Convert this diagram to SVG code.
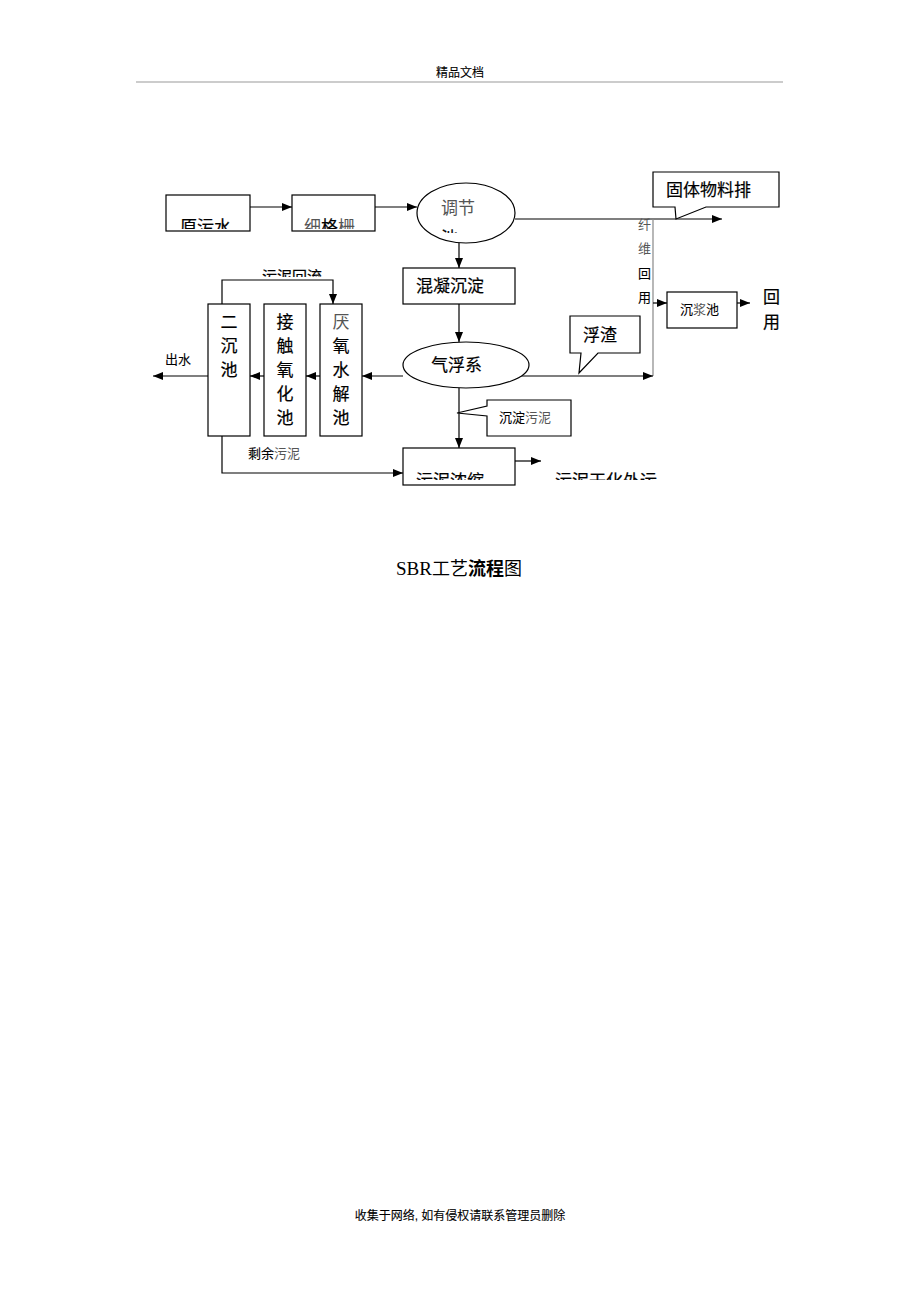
<svg xmlns="http://www.w3.org/2000/svg" width="920" height="1302" viewBox="0 0 920 1302">
<style>
.t{font-family:"Liberation Sans","Noto Sans CJK SC",sans-serif;fill:#000;stroke:#000;stroke-width:0.2}
.b{fill:#fff;stroke:#000;stroke-width:1.2}
.l{fill:none;stroke:#000;stroke-width:1.2}
.g{fill:#555;stroke:none}
.s17{font-size:17px}
.s13{font-size:13px;stroke-width:0.1}
.s12{font-size:12px;stroke-width:0.1}
</style>
<defs>
<marker id="ah" markerUnits="userSpaceOnUse" markerWidth="10" markerHeight="10" viewBox="0 0 10 10" refX="10" refY="5" orient="auto">
<path d="M0,1 L10,5 L0,9 Z" fill="#000"/>
</marker>
<clipPath id="c1"><rect x="166" y="200" width="84" height="29"/></clipPath>
<clipPath id="c2"><rect x="292" y="200" width="84" height="29"/></clipPath>
<clipPath id="c3"><rect x="430" y="225" width="40" height="8"/></clipPath>
<clipPath id="c4"><rect x="255" y="266" width="80" height="11"/></clipPath>
<clipPath id="c5"><rect x="403" y="455" width="112" height="25"/></clipPath>
<clipPath id="c6"><rect x="550" y="455" width="130" height="25"/></clipPath>
</defs>
<rect width="920" height="1302" fill="#fff"/>

<g id="header">
<text class="t s12" x="460" y="77" text-anchor="middle">精品文档</text>
<line x1="136" y1="82" x2="783" y2="82" stroke="#999" stroke-width="1.2"/>
</g>

<g id="connectors">
<line class="l" x1="250" y1="207" x2="292" y2="207" marker-end="url(#ah)"/>
<line class="l" x1="375" y1="207" x2="417" y2="207" marker-end="url(#ah)"/>
<line class="l" x1="515" y1="219" x2="722" y2="219" marker-end="url(#ah)"/>
<line x1="653" y1="219" x2="653" y2="376" stroke="#888" stroke-width="1.2"/>
<line class="l" x1="653" y1="303" x2="667" y2="303" marker-end="url(#ah)"/>
<line class="l" x1="737" y1="303" x2="750" y2="303" marker-end="url(#ah)"/>
<line class="l" x1="459" y1="243" x2="459" y2="268" marker-end="url(#ah)"/>
<line class="l" x1="459" y1="304" x2="459" y2="342" marker-end="url(#ah)"/>
<line class="l" x1="515" y1="376" x2="653" y2="376" marker-end="url(#ah)"/>
<line class="l" x1="403" y1="376" x2="362" y2="376" marker-end="url(#ah)"/>
<line class="l" x1="320" y1="376" x2="306" y2="376" marker-end="url(#ah)"/>
<line class="l" x1="264" y1="376" x2="250" y2="376" marker-end="url(#ah)"/>
<line class="l" x1="208" y1="376" x2="153" y2="376" marker-end="url(#ah)"/>
<polyline class="l" points="222,304 222,280 333,280 333,304" marker-end="url(#ah)"/>
<polyline class="l" points="222,436 222,473 403,473" marker-end="url(#ah)"/>
<line class="l" x1="459" y1="388" x2="459" y2="448" marker-end="url(#ah)"/>
<line class="l" x1="515" y1="461" x2="541" y2="461" marker-end="url(#ah)"/>
</g>

<g id="n-yuanwushui">
<rect class="b" x="166" y="195" width="84" height="36"/>
<text class="t s17" x="180" y="233" clip-path="url(#c1)">原污水</text>
</g>

<g id="n-xigeshan">
<rect class="b" x="292" y="195" width="83" height="36"/>
<text class="t s17" x="304" y="233" clip-path="url(#c2)"><tspan class="g">细</tspan>格<tspan class="g">栅</tspan></text>
</g>

<g id="n-tiaojiechi">
<ellipse class="b" cx="466" cy="213" rx="49" ry="30"/>
<text class="t s17 g" x="441" y="214">调节</text>
<text class="t s17" x="441" y="244" clip-path="url(#c3)">池</text>
</g>

<g id="n-guti">
<path class="b" d="M653,172 H779 V207 H706 L676,219 L675,207 H653 Z"/>
<text class="t s17" x="666" y="196">固体物料排</text>
</g>

<g id="label-xianwei">
<text class="t s13 g" x="638" y="229">纤</text>
<text class="t s13 g" x="638" y="253">维</text>
<text class="t s13" x="638" y="278">回</text>
<text class="t s13" x="638" y="302">用</text>
</g>

<g id="n-chenjiangchi">
<rect class="b" x="667" y="292" width="70" height="36"/>
<text class="t s13" x="680" y="314">沉<tspan class="g">浆</tspan>池</text>
</g>

<g id="label-huiyong">
<text class="t s17" x="763" y="303">回</text>
<text class="t s17" x="763" y="328">用</text>
</g>

<g id="n-hunning">
<rect class="b" x="403" y="268" width="112" height="36"/>
<text class="t s17" x="416" y="292">混凝沉淀</text>
</g>

<g id="n-qifuxi">
<ellipse class="b" cx="466" cy="365" rx="63" ry="23"/>
<text class="t s17" x="431" y="371">气浮系</text>
</g>

<g id="n-fuzha">
<path class="b" d="M570,316 H640 V353 H598 L579,373 L581,353 H570 Z"/>
<text class="t s17" x="583" y="341">浮渣</text>
</g>

<g id="n-yanyang">
<rect class="b" x="320" y="304" width="42" height="132"/>
<text class="t s17 g" x="341" y="328" text-anchor="middle">厌</text>
<text class="t s17" x="341" y="352" text-anchor="middle">氧</text>
<text class="t s17" x="341" y="376" text-anchor="middle">水</text>
<text class="t s17" x="341" y="400" text-anchor="middle">解</text>
<text class="t s17" x="341" y="424" text-anchor="middle">池</text>
</g>

<g id="n-jiechu">
<rect class="b" x="264" y="304" width="42" height="132"/>
<text class="t s17" x="285" y="328" text-anchor="middle">接</text>
<text class="t s17" x="285" y="352" text-anchor="middle">触</text>
<text class="t s17" x="285" y="376" text-anchor="middle">氧</text>
<text class="t s17" x="285" y="400" text-anchor="middle">化</text>
<text class="t s17" x="285" y="424" text-anchor="middle">池</text>
</g>

<g id="n-erchenchi">
<rect class="b" x="208" y="304" width="42" height="132"/>
<text class="t s17" x="229" y="328" text-anchor="middle">二</text>
<text class="t s17" x="229" y="352" text-anchor="middle">沉</text>
<text class="t s17" x="229" y="376" text-anchor="middle">池</text>
</g>

<g id="labels">
<text class="t s13" x="165" y="364">出水</text>
<text class="t s13" x="248" y="458">剩余<tspan class="g">污泥</tspan></text>
<text class="t" font-size="15" x="262" y="282" clip-path="url(#c4)">污泥回流</text>
</g>

<g id="n-chendian">
<path class="b" d="M487,400 H571 V436 H487 V416 L457,413 L487,406 Z"/>
<text class="t s13" x="499" y="422">沉淀<tspan class="g">污泥</tspan></text>
</g>

<g id="n-wunifnongsuo">
<rect class="b" x="403" y="448" width="112" height="37"/>
<text class="t s17" x="416" y="487" clip-path="url(#c5)">污泥浓缩</text>
</g>

<g id="label-ganhua">
<text class="t s17" x="555" y="487" clip-path="url(#c6)">污泥干化外运</text>
</g>

<g id="title">
<text x="396" y="575" font-size="19" font-family="'Liberation Serif','Noto Sans CJK SC',serif" fill="#000">SBR<tspan font-family="'Noto Sans CJK SC',sans-serif" font-size="18">工艺<tspan font-weight="bold">流程</tspan>图</tspan></text>
</g>

<g id="footer">
<text class="t s12" x="460" y="1220" text-anchor="middle">收集于网络, 如有侵权请联系管理员删除</text>
</g>
</svg>
